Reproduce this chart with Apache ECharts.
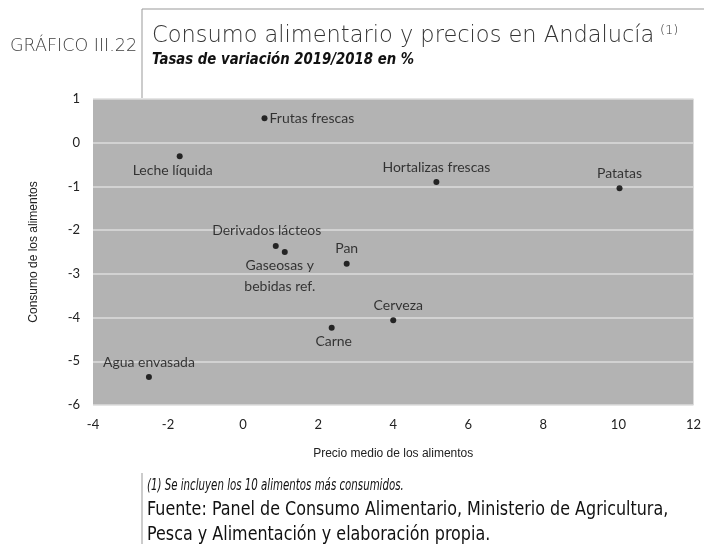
<!DOCTYPE html>
<html><head><meta charset="utf-8">
<script src="https://cdn.jsdelivr.net/npm/echarts@6/dist/echarts.min.js"></script>
<style>html,body{margin:0;padding:0;background:#fff}#c{width:704px;height:544px}</style>
</head><body><div id="c"></div>
<script>
const foods = ["Frutas frescas","Leche líquida","Hortalizas frescas","Patatas","Derivados lácteos","Gaseosas y\nbebidas ref.","Pan","Cerveza","Carne","Agua envasada"];
const precio = [0.57,-1.69,5.15,10.03,0.87,1.11,2.76,4.0,2.36,-2.51];
const consumo = [0.56,-0.31,-0.90,-1.04,-2.36,-2.50,-2.77,-4.06,-4.23,-5.36];
const xTicks = [-4,-2,0,2,4,6,8,10,12];
const yTicks = [-6,-5,-4,-3,-2,-1,0,1];

const labelPlacement = {
  "Frutas frescas": {position:"right", offset:[-3,0]},
  "Leche líquida": {position:"bottom", offset:[-7,-2]},
  "Hortalizas frescas": {position:"top", offset:[0,1]},
  "Patatas": {position:"top", offset:[0,1]},
  "Derivados lácteos": {position:"top", offset:[-9,1]},
  "Gaseosas y\nbebidas ref.": {position:"bottom", offset:[-5,-5], lineHeight:21},
  "Pan": {position:"top", offset:[0,1]},
  "Cerveza": {position:"top", offset:[5,1]},
  "Carne": {position:"bottom", offset:[2,-2]},
  "Agua envasada": {position:"top", offset:[0,1]}
};

const points = foods.map((n,i)=>({
  name:n, value:[precio[i], consumo[i]],
  label:Object.assign({show:true, formatter:n}, labelPlacement[n])
}));

const chart = echarts.init(document.getElementById('c'));
const lbl = {fontFamily:'Lato', fontSize:14, color:'#111', lineHeight:16};
chart.setOption({
  animation:false,
  grid:{left:93,right:10,top:99,bottom:139,show:true,backgroundColor:'#b3b3b3',borderWidth:0},
  xAxis:{type:'value',min:xTicks[0],max:xTicks[xTicks.length-1],interval:2,
    name:'Precio medio de los alimentos',nameLocation:'middle',nameGap:43,
    nameTextStyle:{fontFamily:'Liberation Sans',fontSize:12,color:'#222'},
    axisLine:{show:false},axisTick:{show:false},splitLine:{show:false},
    axisLabel:{fontFamily:'Lato',fontSize:13,color:'#222',margin:13}},
  yAxis:{type:'value',min:yTicks[0],max:yTicks[yTicks.length-1],interval:1,
    name:'Consumo de los alimentos',nameLocation:'middle',nameGap:53,
    nameTextStyle:{fontFamily:'Liberation Sans',fontSize:12,color:'#222'},
    axisLine:{show:false},axisTick:{show:false},
    splitLine:{lineStyle:{color:'#dcdcdc',width:1.5}},
    axisLabel:{fontFamily:'Lato',fontSize:13,color:'#222',margin:13}},
  series:[{type:'scatter',symbol:'circle',symbolSize:6,itemStyle:{color:'#000'},
    label:lbl,data:points}],
  graphic:[
    {type:'line',shape:{x1:142,y1:9,x2:142,y2:98},style:{stroke:'#999',lineWidth:1}},
    {type:'line',shape:{x1:142,y1:9,x2:704,y2:9},style:{stroke:'#999',lineWidth:1}},
    {type:'line',shape:{x1:142,y1:473,x2:142,y2:544},style:{stroke:'#999',lineWidth:1}},
    {type:'text',left:10,top:37,style:{text:'GRÁFICO III.22',font:'200 17.5px "DejaVu Sans"',fill:'#404040'}},
    {type:'text',left:152,top:25,style:{text:'Consumo alimentario y precios en Andalucía',font:'200 22.5px "DejaVu Sans"',fill:'#333'}},
    {type:'text',left:660,top:24,style:{text:'(1)',font:'200 13px "DejaVu Sans"',fill:'#333'}},
    {type:'text',x:152,y:52,scaleX:0.83,style:{text:'Tasas de variación 2019/2018 en %',font:'italic bold 16px "DejaVu Sans"',fill:'#111'}},
    {type:'text',x:147,y:478,scaleX:0.66,style:{text:'(1) Se incluyen los 10 alimentos más consumidos.',font:'italic 15.5px "DejaVu Sans"',fill:'#111'}},
    {type:'text',x:147,y:501,scaleX:0.84,style:{text:'Fuente: Panel de Consumo Alimentario, Ministerio de Agricultura,',font:'19px "DejaVu Sans"',fill:'#111'}},
    {type:'text',x:147,y:526,scaleX:0.84,style:{text:'Pesca y Alimentación y elaboración propia.',font:'19px "DejaVu Sans"',fill:'#111'}}
  ]
});
</script></body></html>
